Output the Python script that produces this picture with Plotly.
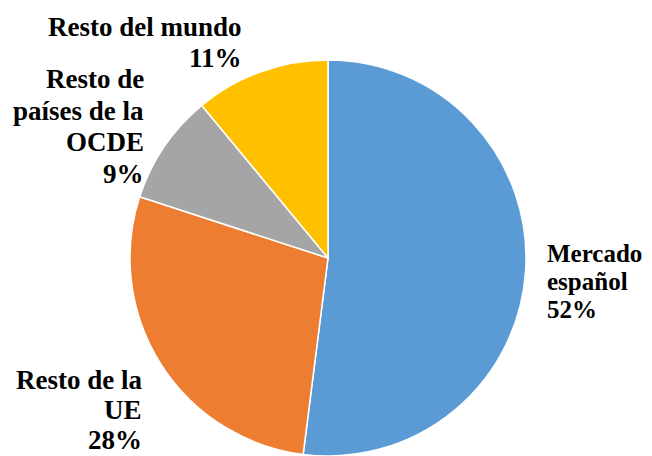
import plotly.graph_objects as go

categories = ["Mercado español", "Resto de la UE", "Resto de países de la OCDE", "Resto del mundo"]
values = [52, 28, 9, 11]
label_lines = [["Mercado", "español", "52%"],
               ["Resto de la", "UE", "28%"],
               ["Resto de", "países de la", "OCDE", "9%"],
               ["Resto del mundo", "11%"]]
colors = ["#5B9BD5", "#ED7D31", "#A5A5A5", "#FFC000"]

OFF = 8  # page body margin
W, H = 652 - OFF, 456 - OFF
cx, cy, r = 328 - OFF, 258 - OFF, 198

fig = go.Figure(go.Pie(
    labels=categories, values=values, sort=False, direction="clockwise", rotation=0,
    marker=dict(colors=colors, line=dict(color="white", width=1.5)),
    textinfo="none", hoverinfo="label+percent", showlegend=False,
    domain=dict(x=[max(0, (cx - r) / W), min(1, (cx + r) / W)],
                y=[max(0, (H - cy - r) / H), min(1, (H - cy + r) / H)]),
))

# label block: (x px, first baseline px, line step px, anchor, font size)
blocks = [(546, 262, 28, "left", 25), (143, 389, 30, "right", 27),
          (145, 88, 31.7, "right", 27), (243, 36, 31, "right", 27)]
for lines, (x, b0, step, xa, fs) in zip(label_lines, blocks):
    font = dict(family="Times New Roman", size=fs, color="black", weight="bold")
    for k, line in enumerate(lines):
        base = b0 + k * step
        center = base - 0.3375 * fs
        fig.add_annotation(x=(x - OFF) / W, y=1 - (center - OFF) / H, xref="paper", yref="paper",
                           text=line, showarrow=False, borderpad=0,
                           xanchor=xa, yanchor="middle", align=xa, font=font)

fig.update_layout(width=W, height=H, margin=dict(l=0, r=0, t=0, b=0),
                  paper_bgcolor="white", plot_bgcolor="white")
fig.write_html("out.html")
